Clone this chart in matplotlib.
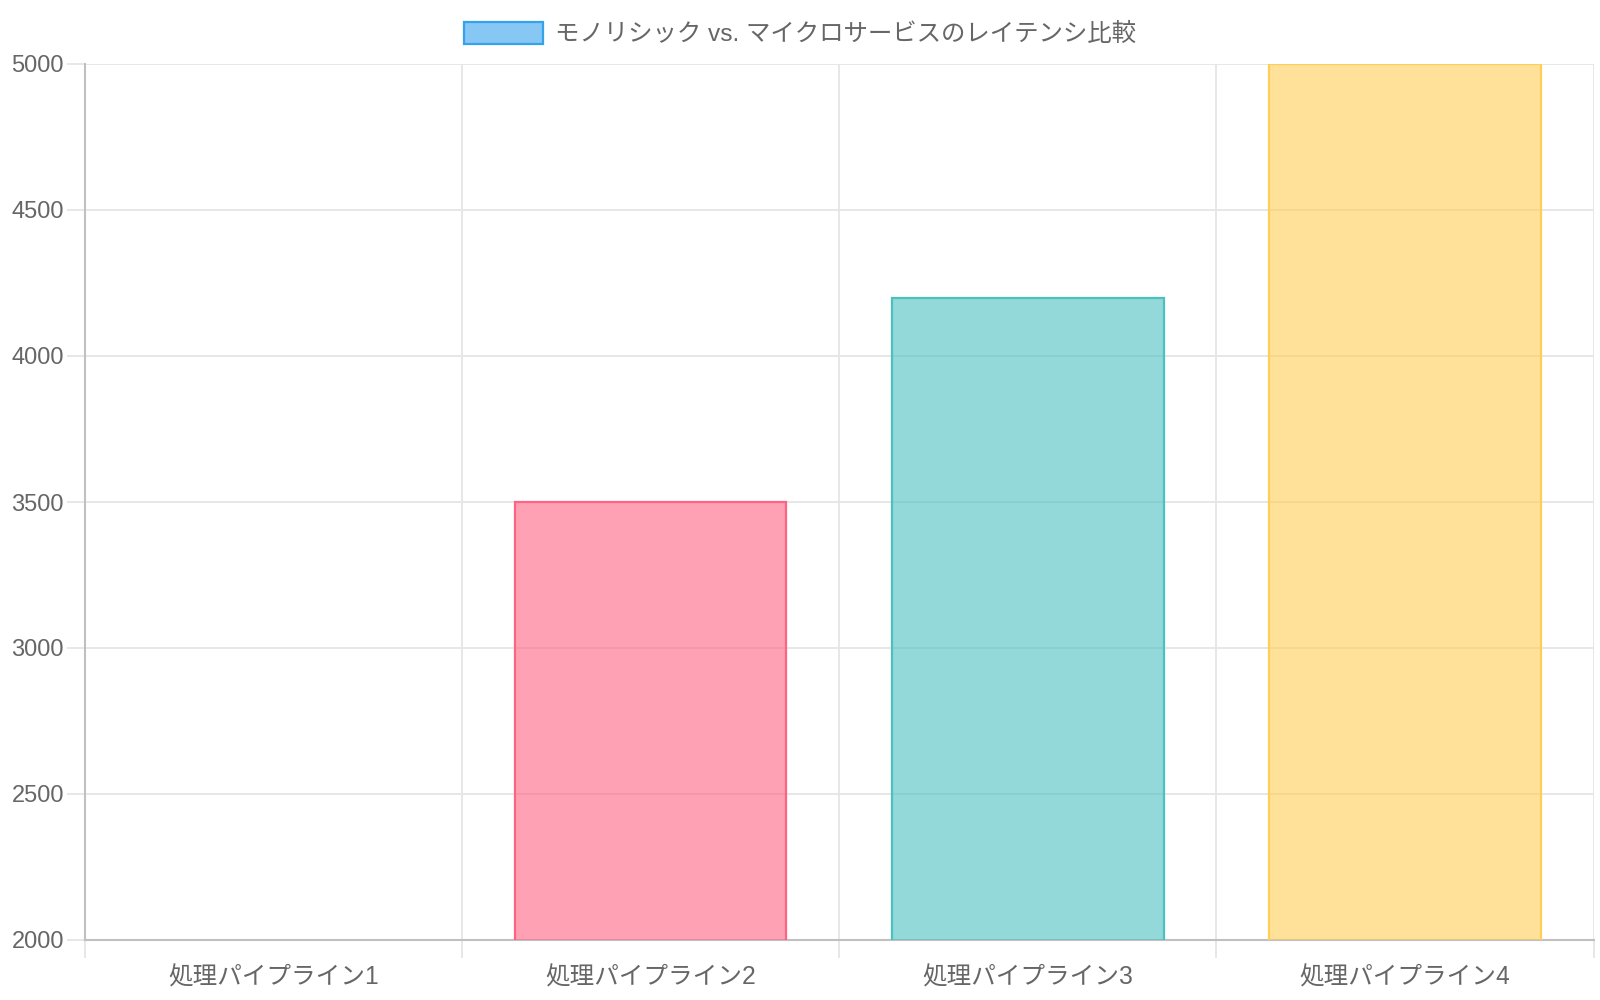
import matplotlib.pyplot as plt
from matplotlib.patches import Patch

plt.rcParams['font.family'] = ['Liberation Sans', 'Noto Sans CJK JP', 'DejaVu Sans']

# データ
categories = ['処理パイプライン1', '処理パイプライン2', '処理パイプライン3', '処理パイプライン4']
latency = [1500, 3500, 4200, 5000]
legend_label = 'モノリシック vs. マイクロサービスのレイテンシ比較'
y_ticks = [2000, 2500, 3000, 3500, 4000, 4500, 5000]

fill_colors = [(54/255, 162/255, 235/255, 0.6), (255/255, 99/255, 132/255, 0.6),
               (75/255, 192/255, 192/255, 0.6), (255/255, 206/255, 86/255, 0.6)]
edge_colors = ['#36a2eb', '#ff6384', '#4bc0c0', '#ffce56']

fig = plt.figure(figsize=(16, 10), dpi=100)
ax = fig.add_axes([0.053, 0.06, 0.943, 0.876])

x = range(len(categories))
ax.bar(x, latency, width=0.72, color=fill_colors, edgecolor=edge_colors, linewidth=1.6, zorder=3)

ax.set_xlim(-0.5, len(categories) - 0.5)
ax.set_ylim(2000, 5000)
ax.set_yticks(y_ticks)
ax.set_xticks(list(x))
ax.set_xticklabels(categories)

# グリッド(Chart.js風)
ax.set_xticks([i - 0.5 for i in range(len(categories) + 1)], minor=True)
ax.grid(axis='x', which='minor', color='#e5e5e5', linewidth=1.3, zorder=0)
ax.grid(axis='y', which='major', color='#e5e5e5', linewidth=1.3, zorder=0)
ax.tick_params(axis='x', which='major', length=0, pad=18.5, labelsize=17.7, labelcolor='#666666')
ax.tick_params(axis='x', which='minor', length=13, color='#e5e5e5', width=1.3)
ax.tick_params(axis='y', length=13, color='#e5e5e5', width=1.3, pad=2, labelsize=17, labelcolor='#666666')

for side in ['top', 'right']:
    ax.spines[side].set_visible(False)
for side in ['left', 'bottom']:
    ax.spines[side].set_color('#c0c0c0')
    ax.spines[side].set_linewidth(1.5)

handle = Patch(facecolor=fill_colors[0], edgecolor=edge_colors[0], linewidth=1.6)
fig.legend([handle], [legend_label], loc='center', bbox_to_anchor=(0.5, 0.966),
           frameon=False, fontsize=17.6, labelcolor='#666666',
           handlelength=3.2, handleheight=1.0, handletextpad=0.5)

plt.savefig('out.png', dpi=100)
